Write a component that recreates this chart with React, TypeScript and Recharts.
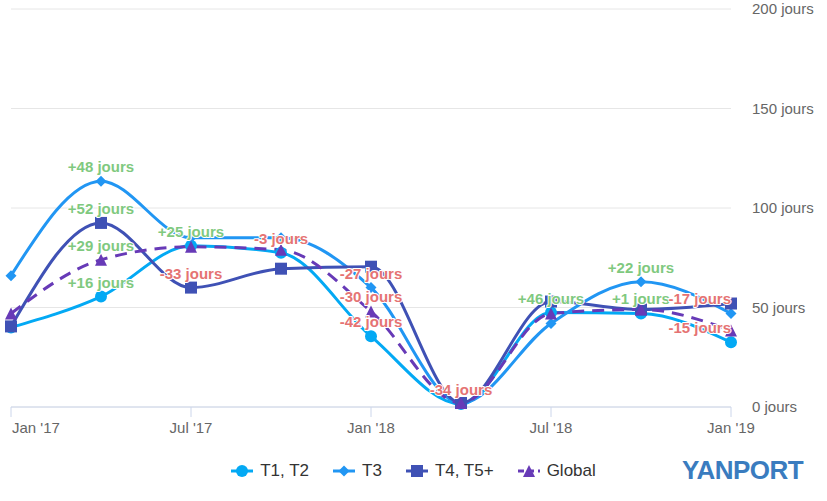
import { CartesianGrid, LabelList, Legend, Line, LineChart, XAxis, YAxis } from "recharts";

const months = ["Jan '17", "Apr '17", "Jul '17", "Oct '17", "Jan '18", "Apr '18", "Jul '18", "Oct '18", "Jan '19"];

const t1t2 = [40, 55.5, 81, 77.5, 35.5, 1.5, 47.5, 47, 32.5];
const t3 = [66, 113.5, 85, 85, 60, 2, 42, 63, 47];
const t4t5 = [40.5, 92.5, 60, 69.5, 70.5, 2, 53, 49, 52];
const globalAvg = [47, 74, 80.5, 79, 48, 2, 47, 49, 38.5];

// change vs previous quarter, only where the original shows it
const t1t2Labels = [null, "+16 jours", "+25 jours", "-3 jours", "-42 jours", "-34 jours", null, "+1 jours", "-15 jours"];
const t3Labels = [null, "+48 jours", null, null, "-27 jours", null, null, "+22 jours", "-17 jours"];
const t4t5Labels = [null, "+52 jours", "-33 jours", null, null, null, null, null, null];
const globalLabels = [null, "+29 jours", null, null, "-30 jours", null, "+46 jours", null, null];

const yTicks = [0, 50, 100, 150, 200];

const data = months.map((m, i) => ({
  month: m,
  t1t2: t1t2[i],
  t3: t3[i],
  t4t5: t4t5[i],
  global: globalAvg[i],
  t1t2Label: t1t2Labels[i],
  t3Label: t3Labels[i],
  t4t5Label: t4t5Labels[i],
  globalLabel: globalLabels[i],
}));

const series = [
  { key: "t1t2", name: "T1, T2", color: "#03a9f4", shape: "circle", dash: undefined },
  { key: "t3", name: "T3", color: "#2196f3", shape: "diamond", dash: undefined },
  { key: "t4t5", name: "T4, T5+", color: "#3f51b5", shape: "square", dash: undefined },
  { key: "global", name: "Global", color: "#673ab7", shape: "triangle", dash: "12 8" },
];

const FONT = "'Liberation Sans', Arial, Helvetica, sans-serif";
const PLOT_RIGHT = 731;

function Marker({ shape, color, cx, cy, s = 6 }: { shape: string; color: string; cx: number; cy: number; s?: number }) {
  if (shape === "circle") return <circle cx={cx} cy={cy} r={s} fill={color} />;
  if (shape === "diamond")
    return <path d={`M${cx},${cy - s} L${cx + s},${cy} L${cx},${cy + s} L${cx - s},${cy} Z`} fill={color} />;
  if (shape === "square") return <rect x={cx - s} y={cy - s} width={s * 2} height={s * 2} fill={color} />;
  return <path d={`M${cx},${cy - s} L${cx + s},${cy + s} L${cx - s},${cy + s} Z`} fill={color} />;
}

const makeDot = (shape: string, color: string) => (props: any) => {
  const { cx, cy, index } = props;
  if (cx == null || cy == null) return <g key={index} />;
  return (
    <g key={index}>
      <Marker shape={shape} color={color} cx={cx} cy={cy} s={shape === "diamond" ? 5.5 : 6} />
    </g>
  );
};

const renderLabel = (props: any) => {
  const { x, y, value, index } = props;
  if (!value) return null;
  const half = 33;
  let tx = x;
  let anchor: "middle" | "end" = "middle";
  if (x + half > PLOT_RIGHT) {
    tx = PLOT_RIGHT;
    anchor = "end";
  }
  const positive = String(value).startsWith("+");
  return (
    <text
      key={index}
      x={tx}
      y={y - 9}
      textAnchor={anchor}
      fontFamily={FONT}
      fontSize={15}
      fontWeight="bold"
      fill={positive ? "#7fc97f" : "#e57373"}
      stroke="#ffffff"
      strokeWidth={2}
      strokeLinejoin="round"
      paintOrder="stroke"
    >
      {value}
    </text>
  );
};

const XTick = (props: any) => {
  const { x, y, payload } = props;
  const first = payload.value === months[0];
  return (
    <text x={first ? x + 1 : x} y={y} dy="0.71em" textAnchor={first ? "start" : "middle"} fill="#666666" fontSize={15} fontFamily={FONT}>
      {payload.value}
    </text>
  );
};

const LegendContent = () => (
  <div style={{ display: "flex", justifyContent: "center", alignItems: "center", fontFamily: FONT, fontSize: 17, color: "#333333" }}>
    {series.map((s) => (
      <div key={s.key} style={{ display: "flex", alignItems: "center", margin: "0 12px" }}>
        <svg width={22} height={14} style={{ marginRight: 7 }}>
          <line x1={0} y1={7} x2={22} y2={7} stroke={s.color} strokeWidth={3} strokeDasharray={s.dash ? "6 4" : undefined} />
          <Marker shape={s.shape} color={s.color} cx={11} cy={7} s={s.shape === "diamond" ? 5.5 : 6} />
        </svg>
        <span>{s.name}</span>
      </div>
    ))}
  </div>
);

export default function App() {
  return (
    <div style={{ position: "absolute", left: 0, top: 0, width: 827, height: 501, background: "#ffffff", fontFamily: FONT }}>
      <LineChart width={827} height={501} data={data} margin={{ top: 9, right: 16, bottom: 64, left: 11 }}>
        <CartesianGrid vertical={false} stroke="#e6e6e6" />
        <XAxis
          dataKey="month"
          interval={1}
          tickSize={10}
          tickMargin={5}
          height={30}
          axisLine={{ stroke: "#ccd6eb" }}
          tickLine={{ stroke: "#ccd6eb" }}
          tick={<XTick />}
        />
        <YAxis
          orientation="right"
          domain={[0, 200]}
          ticks={yTicks}
          width={80}
          axisLine={false}
          tickLine={false}
          tickMargin={15}
          tickFormatter={(v) => `${v} jours`}
          tick={{ fill: "#666666", fontSize: 15, fontFamily: FONT, textAnchor: "start" }}
        />
        {series.map((s) => (
          <Line
            key={s.key}
            type="monotone"
            dataKey={s.key}
            name={s.name}
            stroke={s.color}
            strokeWidth={3}
            strokeDasharray={s.dash}
            dot={makeDot(s.shape, s.color)}
            activeDot={false}
            isAnimationActive={false}
          />
        ))}
        {series.map((s) => (
          <Line
            key={`${s.key}-labels`}
            type="monotone"
            dataKey={s.key}
            stroke="none"
            dot={false}
            activeDot={false}
            legendType="none"
            isAnimationActive={false}
          >
            <LabelList dataKey={`${s.key}Label`} content={renderLabel} />
          </Line>
        ))}
        <Legend verticalAlign="middle" layout="horizontal" align="center" content={<LegendContent />} wrapperStyle={{ top: 461, left: 0, width: 827 }} />
      </LineChart>
      <div
        style={{
          position: "absolute",
          left: 682,
          top: 455,
          fontSize: 26,
          fontWeight: "bold",
          color: "#3a7cbf",
          letterSpacing: -0.5,
          fontFamily: FONT,
        }}
      >
        YANPORT
      </div>
    </div>
  );
}
